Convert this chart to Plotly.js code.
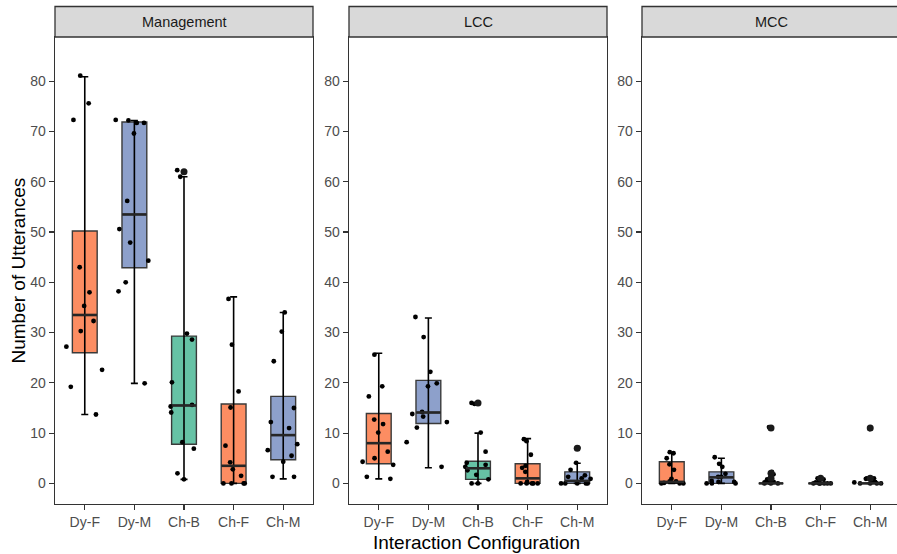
<!DOCTYPE html>
<html><head><meta charset="utf-8">
<script src="https://cdn.plot.ly/plotly-3.0.1.min.js"></script>
<style>html,body{margin:0;padding:0;overflow:hidden;background:#fff}#chart{width:904px;height:554px}</style>
</head><body><div id="chart"></div>
<script>
const conditions = ['Dy-F','Dy-M','Ch-B','Ch-F','Ch-M'];
const panels = ['Management','LCC','MCC'];
const fillColors = ['#FC8D62','#8DA0CB','#66C2A5','#FC8D62','#8DA0CB'];

// Box statistics
const mgmtQ1  = [26.0, 42.9, 7.8, 0, 4.7];
const mgmtMed = [33.5, 53.5, 15.5, 3.5, 9.6];
const mgmtQ3  = [50.2, 71.9, 29.3, 15.8, 17.3];
const mgmtLo  = [13.7, 19.9, 0.8, 0, 0.9];
const mgmtHi  = [80.9, 72.2, 61.0, 37.1, 34.0];

const lccQ1  = [3.9, 11.9, 0.8, 0, 0];
const lccMed = [8.0, 14.1, 3.0, 1.0, 0.5];
const lccQ3  = [13.9, 20.5, 4.4, 3.9, 2.3];
const lccLo  = [0.9, 3.1, 0, 0, 0];
const lccHi  = [25.9, 32.9, 10.0, 8.9, 4.0];

const mccQ1  = [0, 0, 0, 0, 0];
const mccMed = [0.3, 1.2, 0, 0, 0];
const mccQ3  = [4.3, 2.3, 0, 0, 0];
const mccLo  = [0, 0, 0, 0, 0];
const mccHi  = [6.0, 5.0, 0, 0, 0];

// Individual observations (jittered points)
const mgmtDyF = [81.1, 75.6, 72.3, 43.0, 38.0, 35.3, 32.3, 30.3, 27.2, 22.6, 19.2, 13.7];
const mgmtDyM = [72.2, 71.7, 72.3, 71.7, 69.6, 56.2, 50.6, 47.9, 44.3, 40.0, 38.2, 19.9];
const mgmtChB = [61.0, 62.3, 29.8, 28.6, 20.1, 15.3, 15.6, 14.1, 8.2, 6.9, 2.0, 0.8];
const mgmtChF = [36.7, 27.6, 18.3, 15.1, 7.5, 4.2, 2.8, 1.5, 0, 0, 0, 0];
const mgmtChM = [34.0, 30.2, 24.3, 15.0, 12.2, 11.0, 7.8, 6.6, 5.5, 4.3, 1.3, 1.3];

const lccDyF = [25.6, 19.3, 17.3, 12.7, 11.8, 10.1, 6.3, 5.0, 4.3, 3.7, 1.3, 0.9];
const lccDyM = [33.1, 29.1, 22.2, 19.9, 19.3, 14.2, 13.8, 13.3, 12.2, 11.1, 8.2, 3.3];
const lccChB = [16.0, 15.8, 10.1, 6.3, 4.1, 3.7, 3.3, 2.6, 1.7, 0.8, 0, 0];
const lccChF = [8.8, 8.4, 5.7, 3.5, 3.1, 2.3, 0.3, 0, 0, 0, 0, 0];
const lccChM = [7.1, 4.1, 2.7, 1.6, 1.3, 1.0, 0.9, 0, 0, 0, 0, 0];

const mccDyF = [6.2, 6.0, 5.0, 3.8, 2.7, 0.9, 0.4, 0.4, 0.1, 0, 0, 0];
const mccDyM = [5.2, 3.9, 3.3, 1.9, 1.3, 1.3, 0.5, 0.3, 0.3, 0, 0, 0];
const mccChB = [11.2, 11.0, 2.3, 1.8, 0.8, 0.3, 0.3, 0.2, 0.1, 0, 0, 0];
const mccChF = [1.0, 1.0, 0.8, 0.3, 0.2, 0.1, 0, 0, 0, 0, 0, 0];
const mccChM = [11.0, 10.8, 1.0, 1.0, 0.9, 0.5, 0.3, 0.2, 0, 0, 0, 0];

// Outliers (drawn at box centre)
const mgmtOutX = ['Ch-B'];
const mgmtOutY = [62.0];
const lccOutX = ['Ch-B', 'Ch-M'];
const lccOutY = [16.0, 7.0];
const mccOutX = ['Ch-B', 'Ch-B', 'Ch-B', 'Ch-F', 'Ch-M', 'Ch-M'];
const mccOutY = [11.0, 2.0, 1.0, 1.0, 11.0, 1.0];

const panelData = [
  {q1: mgmtQ1, med: mgmtMed, q3: mgmtQ3, lo: mgmtLo, hi: mgmtHi,
   pts: [mgmtDyF, mgmtDyM, mgmtChB, mgmtChF, mgmtChM], outX: mgmtOutX, outY: mgmtOutY},
  {q1: lccQ1, med: lccMed, q3: lccQ3, lo: lccLo, hi: lccHi,
   pts: [lccDyF, lccDyM, lccChB, lccChF, lccChM], outX: lccOutX, outY: lccOutY},
  {q1: mccQ1, med: mccMed, q3: mccQ3, lo: mccLo, hi: mccHi,
   pts: [mccDyF, mccDyM, mccChB, mccChF, mccChM], outX: mccOutX, outY: mccOutY}
];

const traces = [];
const suffix = ['', '2', '3'];
panelData.forEach((pd, p) => {
  const xa = 'x' + suffix[p], ya = 'y' + suffix[p];
  conditions.forEach((c, i) => {
    traces.push({
      type: 'box', x: [c], q1: [pd.q1[i]], median: [pd.med[i]], q3: [pd.q3[i]],
      lowerfence: [pd.q1[i]], upperfence: [pd.q3[i]],
      width: 0.5, fillcolor: fillColors[i], whiskerwidth: 0,
      line: {color: '#3a3a3a', width: 1.4}, boxpoints: false,
      xaxis: xa, yaxis: ya, hoverinfo: 'skip'
    });
  });
  // jittered points
  const px = [], py = [];
  pd.pts.forEach((arr, i) => arr.forEach(v => { px.push(conditions[i]); py.push(v); }));
  traces.push({
    type: 'box', x: px, y: py, boxpoints: 'all', jitter: 1, pointpos: 0, width: 0.9,
    fillcolor: 'rgba(0,0,0,0)', line: {color: 'rgba(0,0,0,0)', width: 0.1},
    marker: {color: '#000', size: 4.8}, xaxis: xa, yaxis: ya, hoverinfo: 'skip'
  });
  // whiskers (errorbar)
  traces.push({
    type: 'scatter', mode: 'markers', x: conditions, y: pd.med,
    marker: {size: 1, color: 'rgba(0,0,0,0)'},
    error_y: {type: 'data', symmetric: false,
      array: pd.hi.map((h, i) => h - pd.med[i]),
      arrayminus: pd.med.map((m, i) => m - pd.lo[i]),
      color: '#000', thickness: 1.6, width: 3.5},
    xaxis: xa, yaxis: ya, hoverinfo: 'skip'
  });
  // medians
  traces.push({
    type: 'scatter', mode: 'markers', x: conditions, y: pd.med,
    marker: {symbol: 'line-ew', size: 17.4, line: {color: '#262626', width: 2.6}},
    xaxis: xa, yaxis: ya, hoverinfo: 'skip'
  });
  // outliers
  traces.push({
    type: 'scatter', mode: 'markers', x: pd.outX, y: pd.outY,
    marker: {color: '#1a1a1a', size: 7},
    xaxis: xa, yaxis: ya, hoverinfo: 'skip'
  });
});

const W = 904, H = 554, L = 55, R = 4, T = 37, B = 50;
const pw = W - L - R, ph = H - T - B;
const panelPx = [[55, 313], [349, 607], [642, 900]];
const axisStyle = {
  showline: true, mirror: true, linecolor: '#333333', linewidth: 1.3,
  ticks: 'outside', ticklen: 5, tickcolor: '#333333', tickwidth: 1.1,
  showgrid: false, zeroline: false,
  tickfont: {family: 'Liberation Sans, Arial, sans-serif', size: 14, color: '#4D4D4D'}
};
const layout = {
  width: W, height: H,
  margin: {l: L, r: R, t: T, b: B},
  paper_bgcolor: '#fff', plot_bgcolor: '#fff',
  showlegend: false, boxmode: 'overlay',
  shapes: [], annotations: []
};
panelPx.forEach((pp, p) => {
  const dom = [(pp[0] - L) / pw, Math.min(1, (pp[1] - L) / pw)];
  layout['xaxis' + suffix[p]] = Object.assign({}, axisStyle, {
    type: 'category', categoryorder: 'array', categoryarray: conditions,
    range: [-0.6, 4.6], domain: dom, anchor: 'y' + suffix[p]
  });
  layout['yaxis' + suffix[p]] = Object.assign({}, axisStyle, {
    range: [-4.1, 88.8], dtick: 10, tick0: 0, anchor: 'x' + suffix[p]
  });
  layout.shapes.push({
    type: 'rect', xref: 'x' + suffix[p] + ' domain', yref: 'paper',
    x0: 0, x1: 1, y0: 1, y1: 1 + 30.5 / ph,
    fillcolor: '#D9D9D9', line: {color: '#333333', width: 1.3}, layer: 'above'
  });
  layout.annotations.push({
    text: panels[p], xref: 'x' + suffix[p] + ' domain', yref: 'paper',
    x: 0.5, y: 1 + 15 / ph, xanchor: 'center', yanchor: 'middle', showarrow: false,
    font: {family: 'Liberation Sans, Arial, sans-serif', size: 14.5, color: '#1A1A1A'}
  });
});
layout.annotations.push({
  text: 'Number of Utterances', xref: 'paper', yref: 'paper',
  x: (18 - L) / pw, y: 0.5, xanchor: 'center', yanchor: 'middle', textangle: -90,
  showarrow: false, font: {family: 'Liberation Sans, Arial, sans-serif', size: 19, color: '#000'}
});
layout.annotations.push({
  text: 'Interaction Configuration', xref: 'paper', yref: 'paper',
  x: (476 - L) / pw, y: -(542 - (T + ph)) / ph, xanchor: 'center', yanchor: 'middle',
  showarrow: false, font: {family: 'Liberation Sans, Arial, sans-serif', size: 19, color: '#000'}
});

Plotly.newPlot('chart', traces, layout, {displayModeBar: false, staticPlot: true});
</script>
</body></html>
